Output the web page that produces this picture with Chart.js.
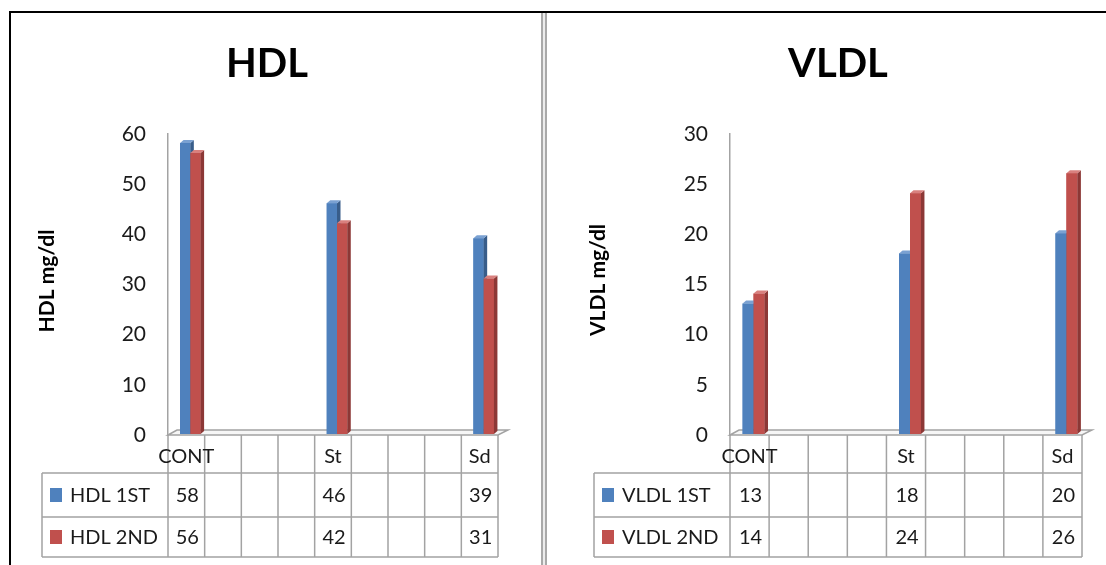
<!DOCTYPE html>
<html>
<head>
<meta charset="utf-8">
<script src="https://cdn.jsdelivr.net/npm/chart.js@4.4.0/dist/chart.umd.min.js"></script>
<style>
  html, body { margin: 0; padding: 0; background: #fff; width: 1106px; height: 565px; overflow: hidden; }
  .panel { position: absolute; top: 0; height: 565px; }
  #panelHdl { left: 0; width: 541px; }
  #panelVldl { left: 548px; width: 558px; }
  #frameTop { position: absolute; left: 9px; top: 11px; width: 1097px; height: 2px; background: #000; z-index: 2; }
  #frameLeft { position: absolute; left: 9px; top: 11px; width: 2px; height: 554px; background: #000; z-index: 2; }
  #divider { position: absolute; left: 541px; top: 13px; width: 2px; height: 552px;
             border-left: 2px solid #a9a9a9; border-right: 2px solid #a9a9a9; background: #ececec; z-index: 2; }
</style>
</head>
<body>
<div class="panel" id="panelHdl"><canvas id="hdlChart" width="541" height="565"></canvas></div>
<div class="panel" id="panelVldl"><canvas id="vldlChart" width="558" height="565"></canvas></div>
<div id="frameTop"></div>
<div id="frameLeft"></div>
<div id="divider"></div>

<script>
// Category columns of the data table (spacer columns are left blank)
const categories = ['CONT', '', '', '', 'St', '', '', '', 'Sd'];

// HDL (mg/dl), first and second measurement
const hdlSeries = ['HDL 1ST', 'HDL 2ND'];
const hdlFirst  = [58, null, null, null, 46, null, null, null, 39];
const hdlSecond = [56, null, null, null, 42, null, null, null, 31];
const hdlTicks  = [0, 10, 20, 30, 40, 50, 60];

// VLDL (mg/dl), first and second measurement
const vldlSeries = ['VLDL 1ST', 'VLDL 2ND'];
const vldlFirst  = [13, null, null, null, 18, null, null, null, 20];
const vldlSecond = [14, null, null, null, 24, null, null, null, 26];
const vldlTicks  = [0, 5, 10, 15, 20, 25, 30];

const BLUE = '#4f81bd', RED = '#c0504d';
const FACE = {
  [BLUE]: { side: '#385d8a', top: '#7aa1d2' },
  [RED]:  { side: '#8c3836', top: '#d9807e' }
};
const FONT = 'Lato, "Open Sans", sans-serif';
const TEXT = '#1a1a1a';
const GRID = '#a3a3a3';
const DEPTH = { dx: 3.5, dy: 3 };

// Office-style look: floor slab, 3D bar faces, title, axis title and data table
const officeLook = {
  id: 'officeLook',
  beforeDatasetsDraw(chart) {
    const { ctx, chartArea: a } = chart;
    ctx.save();
    ctx.beginPath();
    ctx.moveTo(a.left, a.bottom);
    ctx.lineTo(a.left + 9, a.bottom - 5);
    ctx.lineTo(a.right + 10, a.bottom - 5);
    ctx.lineTo(a.right, a.bottom);
    ctx.closePath();
    ctx.fillStyle = '#f6f6f6';
    ctx.fill();
    ctx.strokeStyle = GRID;
    ctx.lineWidth = 1.5;
    ctx.stroke();
    ctx.restore();
    // the bars stand slightly back on the floor
    ctx.save();
    ctx.translate(4, -1);
  },
  afterDatasetsDraw(chart) {
    // solid blocks, series by series so the later series hides the earlier one's side
    const { ctx } = chart;
    chart.data.datasets.forEach((ds, k) => {
      const meta = chart.getDatasetMeta(k);
      const faces = FACE[ds.backgroundColor];
      meta.data.forEach((el, i) => {
        if (ds.data[i] == null) return;
        const { x, y, base, width } = el.getProps(['x', 'y', 'base', 'width'], true);
        const l = x - width / 2, r = x + width / 2;
        ctx.fillStyle = ds.backgroundColor;
        ctx.fillRect(l, y, width, base - y);
        ctx.beginPath();
        ctx.moveTo(r, y);
        ctx.lineTo(r + DEPTH.dx, y - DEPTH.dy);
        ctx.lineTo(r + DEPTH.dx, base - DEPTH.dy);
        ctx.lineTo(r, base);
        ctx.closePath();
        ctx.fillStyle = faces.side;
        ctx.fill();
        ctx.beginPath();
        ctx.moveTo(l, y);
        ctx.lineTo(l + DEPTH.dx, y - DEPTH.dy);
        ctx.lineTo(r + DEPTH.dx, y - DEPTH.dy);
        ctx.lineTo(r, y);
        ctx.closePath();
        ctx.fillStyle = faces.top;
        ctx.fill();
      });
    });
    ctx.restore();
  },
  afterDraw(chart, args, opts) {
    const { ctx, chartArea: a } = chart;
    const xs = chart.scales.x;
    const n = chart.data.labels.length;
    const colW = (a.right - a.left) / n;
    const catBottom = a.bottom + 38;
    const rows = [catBottom, a.bottom + 82, a.bottom + 122];

    ctx.save();
    // chart title
    ctx.fillStyle = '#000';
    ctx.font = 'bold 40px ' + FONT;
    ctx.textAlign = 'center';
    ctx.textBaseline = 'middle';
    ctx.fillText(opts.title, opts.titleX, 64);

    // value axis title
    ctx.save();
    ctx.translate(opts.axisTitleX, opts.axisTitleY);
    ctx.rotate(-Math.PI / 2);
    ctx.font = 'bold 21px ' + FONT;
    ctx.fillText(opts.axisTitle, 0, 0);
    ctx.restore();

    // data table grid
    ctx.strokeStyle = GRID;
    ctx.lineWidth = 1.5;
    ctx.beginPath();
    for (let i = 0; i <= n; i++) {
      const gx = a.left + i * colW;
      ctx.moveTo(gx, a.bottom);
      ctx.lineTo(gx, rows[2]);
    }
    rows.forEach(ry => { ctx.moveTo(opts.tableLeft, ry); ctx.lineTo(a.right, ry); });
    ctx.moveTo(opts.tableLeft, catBottom);
    ctx.lineTo(opts.tableLeft, rows[2]);
    ctx.stroke();

    // category labels
    ctx.fillStyle = TEXT;
    ctx.font = '20px ' + FONT;
    ctx.textAlign = 'center';
    chart.data.labels.forEach((lab, i) => {
      if (lab) ctx.fillText(lab, xs.getPixelForValue(i), a.bottom + 22);
    });

    // series rows: legend key, name and values
    chart.data.datasets.forEach((ds, k) => {
      const cy = (rows[k] + rows[k + 1]) / 2;
      ctx.fillStyle = ds.backgroundColor;
      ctx.fillRect(opts.tableLeft + 8, cy - 7, 12, 14);
      ctx.fillStyle = TEXT;
      ctx.textAlign = 'left';
      ctx.fillText(ds.label, opts.tableLeft + 28, cy + 1);
      ctx.textAlign = 'center';
      ds.data.forEach((v, i) => {
        if (v != null) ctx.fillText(String(v), xs.getPixelForValue(i) + 1, cy + 1);
      });
    });
    ctx.restore();
  }
};

function buildChart(id, series, first, second, ticks, look, plotLeft, padRight) {
  return new Chart(document.getElementById(id), {
    type: 'bar',
    data: {
      labels: categories,
      datasets: [
        { label: series[0], data: first, backgroundColor: BLUE,
          categoryPercentage: 0.56, barPercentage: 1 },
        { label: series[1], data: second, backgroundColor: RED,
          categoryPercentage: 0.56, barPercentage: 1 }
      ]
    },
    options: {
      responsive: false,
      animation: false,
      events: [],
      layout: { padding: { left: 0, right: padRight, top: 134, bottom: 130 } },
      plugins: {
        legend: { display: false },
        tooltip: { enabled: false },
        title: { display: false },
        officeLook: look
      },
      scales: {
        x: { display: false, offset: true, grid: { display: false } },
        y: {
          min: ticks[0],
          max: ticks[ticks.length - 1],
          afterBuildTicks(scale) { scale.ticks = ticks.map(v => ({ value: v })); },
          afterFit(scale) { scale.width = plotLeft; },
          ticks: { padding: 22, color: TEXT, font: { family: FONT, size: 21 } },
          grid: { display: false, drawTicks: false },
          border: { display: true, color: GRID, width: 1.5 }
        }
      }
    },
    plugins: [officeLook]
  });
}

buildChart('hdlChart', hdlSeries, hdlFirst, hdlSecond, hdlTicks,
  { title: 'HDL', titleX: 267, axisTitle: 'HDL mg/dl', axisTitleX: 47, axisTitleY: 281, tableLeft: 42 },
  168, 43);

buildChart('vldlChart', vldlSeries, vldlFirst, vldlSecond, vldlTicks,
  { title: 'VLDL', titleX: 290, axisTitle: 'VLDL mg/dl', axisTitleX: 50, axisTitleY: 280, tableLeft: 46 },
  182, 24);
</script>
</body>
</html>
